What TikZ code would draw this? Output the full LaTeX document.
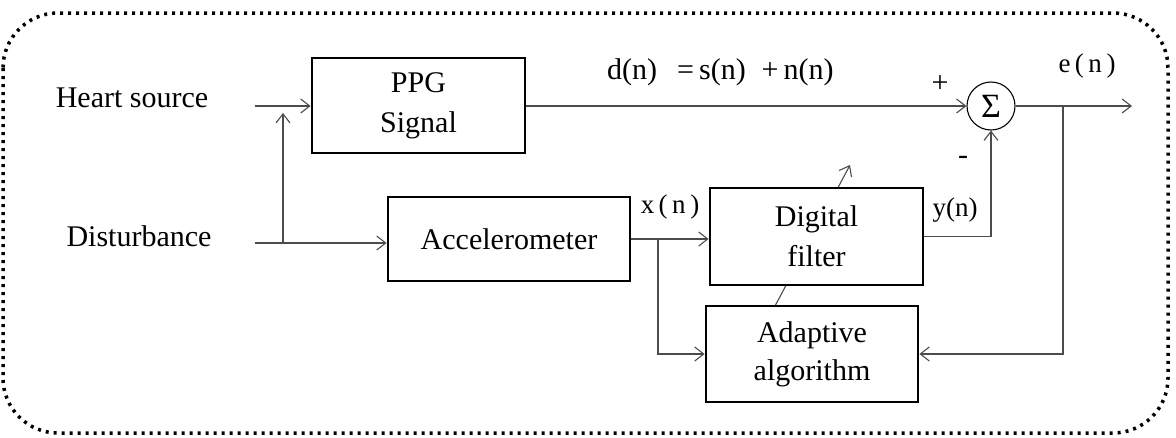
\documentclass[tikz,border=0pt]{standalone}
\usepackage{fontspec}
\setmainfont{Liberation Serif}
\usetikzlibrary{arrows.meta,backgrounds,calc}
\begin{document}
\begin{tikzpicture}[x=1pt,y=-1pt,
  blk/.style={draw, line width=2.8pt, fill=white, align=center, inner sep=0pt, font=\fontsize{30}{40}\selectfont},
  wire/.style={draw=black!70, line width=1.1pt},
  arr/.style={wire, -{Straight Barb[length=9pt,width=14pt,line width=1.1pt]}},
  lbl/.style={font=\fontsize{30}{36}\selectfont, inner sep=0pt},
  sml/.style={font=\fontsize{27}{30}\selectfont, inner sep=0pt}]
\useasboundingbox (0,0) rectangle (1176,437);
\draw[line width=3.5pt, dash pattern=on 3pt off 5pt, rounded corners=55pt] (3,13) rectangle (1168,433);

\node[lbl] (heart) at (132,98) {Heart source};
\node[lbl] (dist) at (139,236) {Disturbance};

\node[blk, minimum width=213pt, minimum height=95pt] (ppg) at (418.5,105.5) {PPG\\Signal};
\node[blk, minimum width=242pt, minimum height=84pt] (accel) at (509,239) {Accelerometer};
\node[blk, minimum width=213pt, minimum height=97pt] (filter) at (816.5,236.5) {Digital\\filter};
\node[blk, minimum width=212pt, minimum height=96pt, font=\fontsize{30}{38}\selectfont] (adapt) at (812,354) {Adaptive\\algorithm};
\node[draw, circle, line width=1.1pt, minimum size=48pt, inner sep=0pt, font=\fontsize{34}{36}\selectfont] (sum) at (991,106) {Σ};

\coordinate (hs) at (255,106);
\coordinate (ds) at (255,243);
\coordinate (jn) at (283,243);
\coordinate (jt) at (283,113);
\coordinate (xb) at (658,239);
\coordinate (fb) at (1063,106);
\coordinate (out) at (1132,106);
\coordinate (yc) at (990,236.5);
\coordinate (ds1) at (775,306);
\coordinate (de) at (850,165);

\begin{scope}[on background layer]
\draw[arr] (ds1) -- (de);
\end{scope}

\draw[arr] (hs) -- (hs -| ppg.west);
\draw[arr] (ds) -- (ds -| accel.west);
\draw[arr] (jn) -- (jt);
\draw[arr] (ppg.east |- sum.west) -- (sum.west);
\draw[arr] (accel.east) -- (accel.east -| filter.west);
\draw[arr] (xb) |- (adapt.west);
\draw[arr] (filter.east |- yc) -| (sum.south);
\draw[arr] (sum.east) -- (out);
\draw[arr] (fb) |- (adapt.east);

\node[font=\fontsize{30}{32}\selectfont, inner sep=0pt, anchor=west] (eq) at (607,72) {d(n)\hspace{20pt}=\,s(n)\hspace{16pt}+\,n(n)};
\node[sml] (xl) at (670,207) {x\,(\,n\,)};
\node[sml] (yl) at (955,210) {y(n)};
\node[sml] (el) at (1087,66) {e\,(\,n\,)};
\node[font=\fontsize{30}{30}\selectfont, inner sep=0pt] (pl) at (940,84) {+};
\node[font=\fontsize{30}{30}\selectfont, inner sep=0pt] (ml) at (963,160) {-};
\end{tikzpicture}
\end{document}
